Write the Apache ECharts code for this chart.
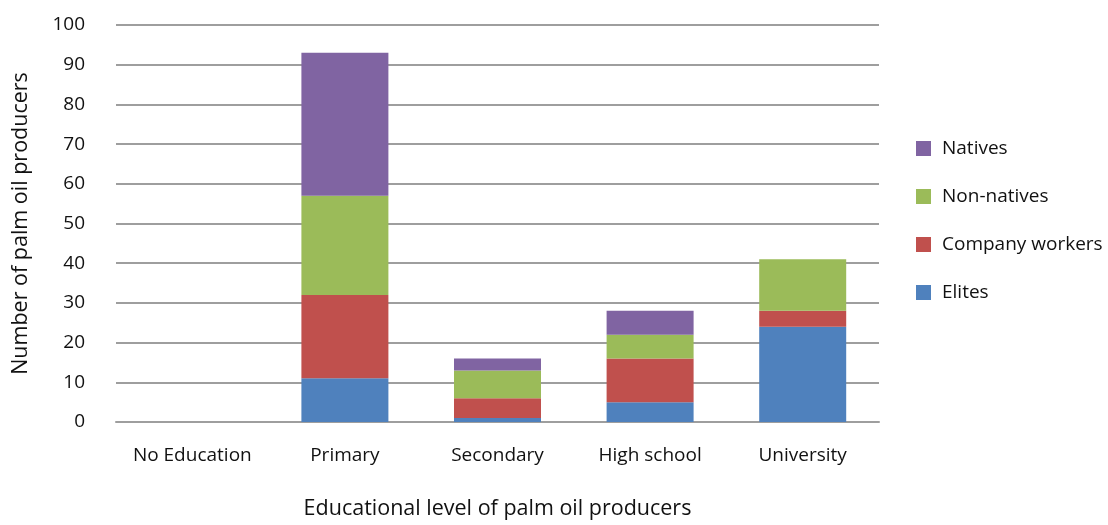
<!DOCTYPE html>
<html><head><meta charset="utf-8">
<script src="https://cdn.jsdelivr.net/npm/echarts@6/dist/echarts.min.js"></script>
<style>html,body{margin:0;padding:0;background:#fff;overflow:hidden}#c{width:1108px;height:525px}</style>
</head><body><div id="c"></div>
<script>
const categories = ['No Education', 'Primary', 'Secondary', 'High school', 'University'];
const elites = [0, 11, 1, 5, 24];
const companyWorkers = [0, 21, 5, 11, 4];
const nonNatives = [0, 25, 7, 6, 13];
const natives = [0, 36, 3, 6, 0];
const yTicks = [0, 10, 20, 30, 40, 50, 60, 70, 80, 90, 100];

const FONT = 'Open Sans';
const chart = echarts.init(document.getElementById('c'), null, {renderer: 'canvas'});
function s(name, data, color) {
  return {
    name, type: 'bar', stack: 'total', data, barWidth: 87,
    itemStyle: {color},
    emphasis: {disabled: true}
  };
}
chart.setOption({
  animation: false,
  textStyle: {fontFamily: FONT, color: '#111'},
  grid: {left: 116, right: 229, top: 25, bottom: 97, containLabel: false},
  legend: {
    orient: 'vertical', left: 911, top: 134, itemWidth: 15, itemHeight: 15, itemGap: 29,
    data: ['Natives', 'Non-natives', 'Company workers', 'Elites'],
    textStyle: {fontFamily: FONT, fontSize: 19, color: '#111', padding: [0, 0, 0, 6]},
    icon: 'rect'
  },
  xAxis: {
    type: 'category', data: categories,
    name: 'Educational level of palm oil producers', nameLocation: 'middle', nameGap: 76,
    nameTextStyle: {fontFamily: FONT, fontSize: 21.5, color: '#111'},
    axisLine: {show: true, lineStyle: {color: '#9e9e9e', width: 2}},
    axisTick: {show: false},
    axisLabel: {fontFamily: FONT, fontSize: 19, color: '#111', margin: 24, interval: 0}
  },
  yAxis: {
    type: 'value', min: yTicks[0], max: yTicks[yTicks.length - 1], interval: 10,
    name: 'Number of palm oil producers', nameLocation: 'middle', nameGap: 84,
    nameTextStyle: {fontFamily: FONT, fontSize: 21.5, color: '#111'},
    axisLine: {show: false}, axisTick: {show: false},
    axisLabel: {fontFamily: FONT, fontSize: 19, color: '#111', margin: 31},
    splitLine: {lineStyle: {color: '#9e9e9e', width: 2}}
  },
  series: [
    s('Elites', elites, '#4F81BD'),
    s('Company workers', companyWorkers, '#C0504D'),
    s('Non-natives', nonNatives, '#9BBB59'),
    s('Natives', natives, '#8064A2')
  ]
});
</script></body></html>
